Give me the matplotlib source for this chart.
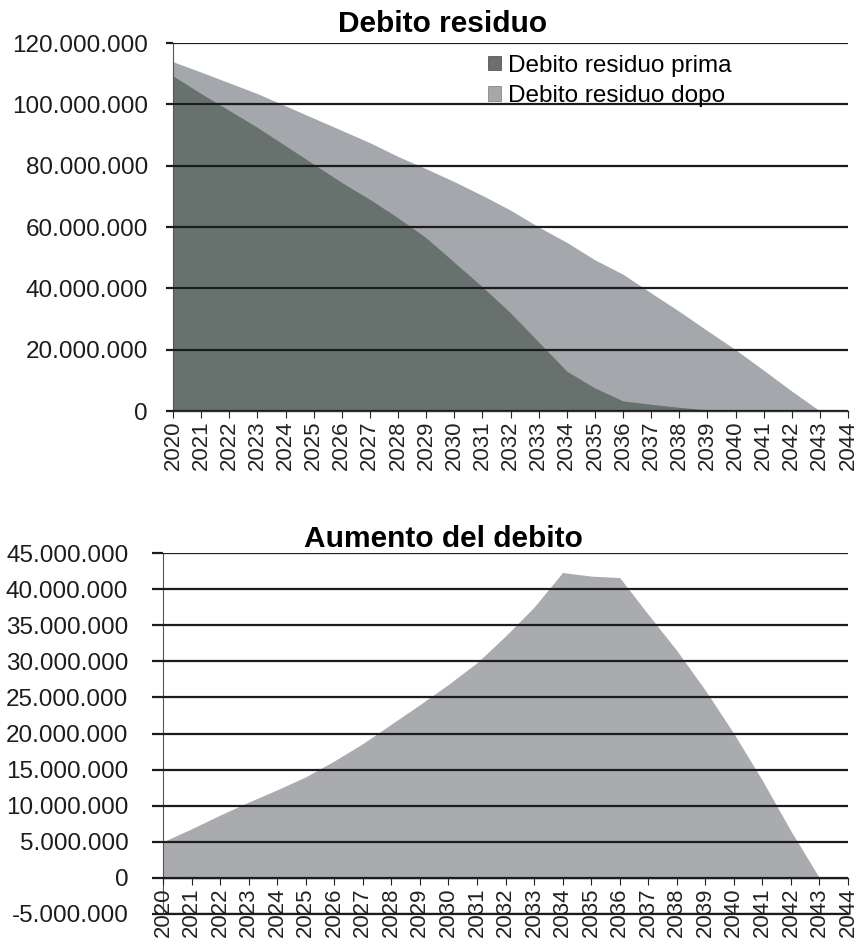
import numpy as np
import matplotlib
matplotlib.use("Agg")
import matplotlib.pyplot as plt
from matplotlib.patches import Patch
from matplotlib.ticker import FuncFormatter, MultipleLocator

plt.rcParams['font.family'] = ['Liberation Sans', 'DejaVu Sans']

# years on the x axis (categories)
years = list(range(2020, 2045))

# values in millions of euro
prima = [109.3, 103.5, 98.0, 92.5, 86.5, 80.5, 74.5, 69.0, 63.0, 56.5, 48.5, 40.5,
         32.0, 22.5, 13.0, 7.5, 3.3, 2.2, 1.2, 0.4, 0.1, 0.0, 0.0, 0.0]
dopo = [113.9, 110.5, 107.0, 103.5, 99.5, 95.5, 91.5, 87.5, 83.0, 79.0, 74.8, 70.3,
        65.5, 60.0, 55.0, 49.3, 44.6, 38.5, 32.5, 26.2, 20.0, 13.3, 6.5, 0.0]
aumento = [5.0, 6.8, 8.7, 10.5, 12.2, 14.0, 16.2, 18.6, 21.3, 24.0, 26.8, 29.8,
           33.5, 37.5, 42.3, 41.8, 41.6, 36.5, 31.5, 26.0, 20.0, 13.5, 6.5, 0.0]

col_prima = '#67726e'
col_dopo = '#a4a7ab'
col_aumento = '#a9abaf'
grid_col = '#1c1c1c'

def it_fmt(v, pos):
    return f"{int(round(v)):,}".replace(",", ".")

def style_axes(ax):
    ax.set_xlim(0, len(years) - 1)
    ax.set_xticks(range(len(years)))
    ax.set_xticklabels([str(y) for y in years], rotation=90, fontsize=16)
    ax.yaxis.set_major_formatter(FuncFormatter(it_fmt))
    ax.grid(axis='y', color=grid_col, linewidth=1.6)
    ax.set_axisbelow(False)
    for s in ['top', 'right']:
        ax.spines[s].set_visible(False)
    ax.spines['left'].set_color('#555555')
    ax.spines['left'].set_linewidth(0.8)
    ax.spines['bottom'].set_color('#333333')
    ax.spines['bottom'].set_linewidth(1.0)
    ax.tick_params(axis='x', direction='out', length=5, width=0.8, pad=2, colors='#222222')
    ax.tick_params(axis='y', direction='out', width=1.6, labelsize=17.5, colors=grid_col)

fig = plt.figure(figsize=(8.59, 9.44), dpi=100)

# --- top chart: Debito residuo
ax1 = fig.add_axes([173 / 859, 1 - 411 / 944, 675 / 859, 368 / 944])
x = np.arange(len(dopo))
ax1.fill_between(x, 0, np.array(dopo) * 1e6, color=col_dopo, linewidth=0, zorder=1)
ax1.fill_between(x, 0, np.array(prima) * 1e6, color=col_prima, linewidth=0, zorder=1)
ax1.set_ylim(0, 120e6)
ax1.yaxis.set_major_locator(MultipleLocator(20e6))
style_axes(ax1)
ax1.tick_params(axis='y', length=5, pad=13)
ax1.set_title('Debito residuo', fontsize=21.5, fontweight='bold', pad=8, x=0.4)

handles = [Patch(facecolor=col_prima, edgecolor='#444444', linewidth=0.5),
           Patch(facecolor=col_dopo, edgecolor='#777777', linewidth=0.5)]
fig.legend(handles, ['Debito residuo prima', 'Debito residuo dopo'],
           loc='upper left', bbox_to_anchor=(478 / 859, 1 - 45 / 944),
           frameon=False, fontsize=17.5, handlelength=0.55, handleheight=0.55,
           handletextpad=0.3, labelspacing=0.35, borderaxespad=0)

# --- bottom chart: Aumento del debito
ax2 = fig.add_axes([163 / 859, 1 - 914 / 944, 685 / 859, 361 / 944])
x2 = np.arange(len(aumento))
ax2.fill_between(x2, 0, np.array(aumento) * 1e6, color=col_aumento, linewidth=0, zorder=1)
ax2.set_ylim(-5e6, 45e6)
ax2.spines['bottom'].set_position(('data', 0))
ax2.yaxis.set_major_locator(MultipleLocator(5e6))
style_axes(ax2)
ax2.axhline(-5e6, color=grid_col, linewidth=1.6, clip_on=False, zorder=1.5)
ax2.tick_params(axis='y', length=8, pad=17)
ax2.set_title('Aumento del debito', fontsize=21.5, fontweight='bold', pad=2, x=0.41)

fig.savefig('out.png', dpi=100, facecolor='white')
